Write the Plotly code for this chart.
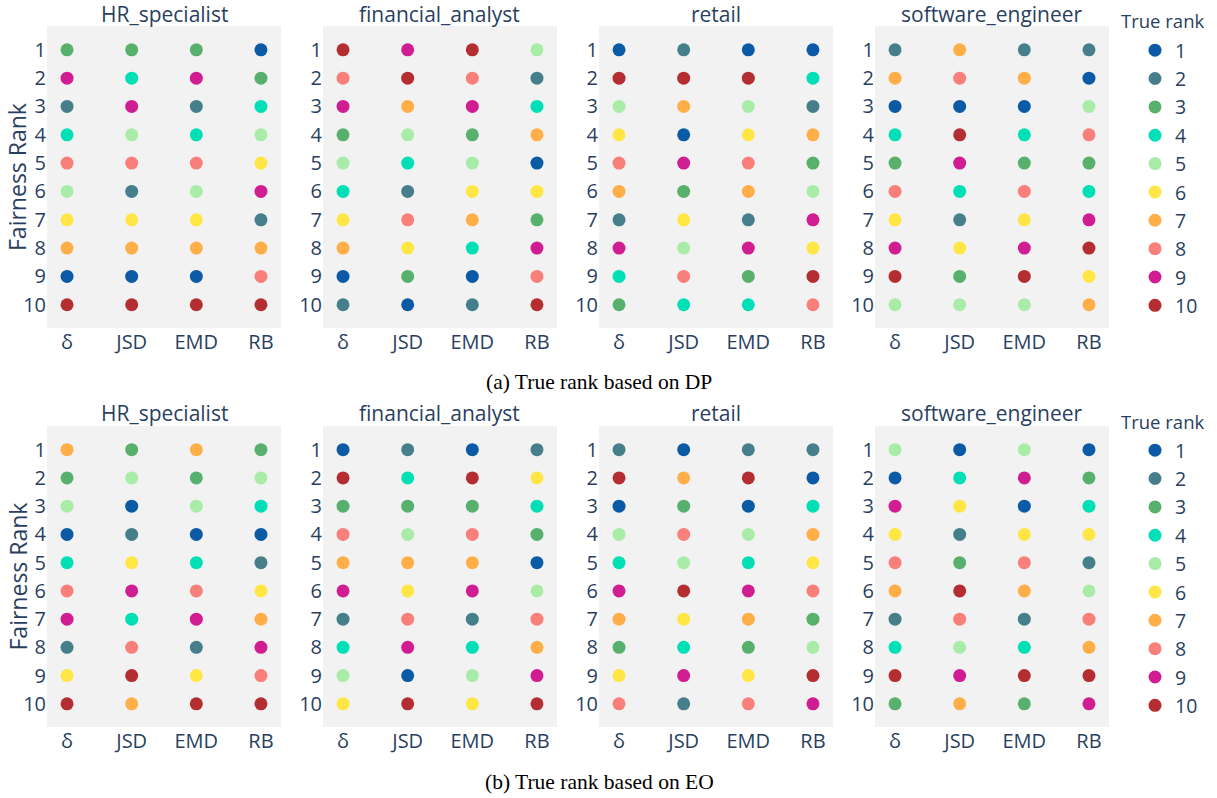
import plotly.graph_objects as go

# ---------------- data ----------------
metrics = ["δ", "JSD", "EMD", "RB"]
jobs = ["HR_specialist", "financial_analyst", "retail", "software_engineer"]
fairness_ranks = [1, 2, 3, 4, 5, 6, 7, 8, 9, 10]
true_ranks = [1, 2, 3, 4, 5, 6, 7, 8, 9, 10]

# true rank found at fairness rank 1..10, per metric column (delta, JSD, EMD, RB)
dp_hr = [[3, 9, 2, 4, 8, 5, 6, 7, 1, 10],
         [3, 4, 9, 5, 8, 2, 6, 7, 1, 10],
         [3, 9, 2, 4, 8, 5, 6, 7, 1, 10],
         [1, 3, 4, 5, 6, 9, 2, 7, 8, 10]]
dp_fin = [[10, 8, 9, 3, 5, 4, 6, 7, 1, 2],
          [9, 10, 7, 5, 4, 2, 8, 6, 3, 1],
          [10, 8, 9, 3, 5, 6, 7, 4, 1, 2],
          [5, 2, 4, 7, 1, 6, 3, 9, 8, 10]]
dp_retail = [[1, 10, 5, 6, 8, 7, 2, 9, 4, 3],
             [2, 10, 7, 1, 9, 3, 6, 5, 8, 4],
             [1, 10, 5, 6, 8, 7, 2, 9, 3, 4],
             [1, 4, 2, 7, 3, 5, 9, 6, 10, 8]]
dp_se = [[2, 7, 1, 4, 3, 8, 6, 9, 10, 5],
         [7, 8, 1, 10, 9, 4, 2, 6, 3, 5],
         [2, 7, 1, 4, 3, 8, 6, 9, 10, 5],
         [2, 1, 5, 8, 3, 4, 9, 10, 6, 7]]

eo_hr = [[7, 3, 5, 1, 4, 8, 9, 2, 6, 10],
         [3, 5, 1, 2, 6, 9, 4, 8, 10, 7],
         [7, 3, 5, 1, 4, 8, 9, 2, 6, 10],
         [3, 5, 4, 1, 2, 6, 7, 9, 8, 10]]
eo_fin = [[1, 10, 3, 8, 7, 9, 2, 4, 5, 6],
          [2, 4, 3, 5, 7, 6, 8, 9, 1, 10],
          [1, 10, 3, 8, 7, 9, 2, 4, 5, 6],
          [2, 6, 4, 3, 1, 5, 8, 7, 9, 10]]
eo_retail = [[2, 10, 1, 5, 4, 9, 7, 3, 6, 8],
             [1, 7, 3, 8, 5, 10, 6, 4, 9, 2],
             [2, 10, 1, 5, 4, 9, 7, 3, 6, 8],
             [2, 1, 4, 7, 6, 8, 3, 5, 10, 9]]
eo_se = [[5, 1, 9, 6, 8, 7, 2, 4, 10, 3],
         [1, 4, 6, 2, 3, 10, 8, 5, 9, 7],
         [5, 9, 1, 6, 8, 7, 2, 4, 10, 3],
         [1, 3, 4, 6, 2, 5, 8, 7, 10, 9]]

rank_colors = ["#0a5aa6", "#457f8b", "#58b06d", "#00dfb5", "#a8eca8",
               "#ffe645", "#ffae48", "#f97f7a", "#d11d92", "#b42d30"]

captions = ["(a) True rank based on DP", "(b) True rank based on EO"]
panels = [[dp_hr, dp_fin, dp_retail, dp_se], [eo_hr, eo_fin, eo_retail, eo_se]]

# ---------------- layout geometry (screen pixels) ----------------
W, H = 1217, 798
col_px = [(47, 281), (323, 557), (599, 833), (875, 1109)]
row_px = [(26, 328), (426, 727)]
title_y = [14, 413]
caption_y = [382, 782]
legend_title_y = [21, 421]
legend_top = [31, 431]

def px_x(x):
    return x / W

def px_y(y):
    return 1 - y / H

fig = go.Figure()
layout_axes = {}
annotations = []
font_color = "#2a3f5f"

for r in range(2):
    legend_name = "legend" if r == 0 else "legend2"
    for c in range(4):
        idx = r * 4 + c + 1
        xa = "x" if idx == 1 else f"x{idx}"
        ya = "y" if idx == 1 else f"y{idx}"
        data = panels[r][c]
        for tr in true_ranks:
            xs, ys = [], []
            for mi, m in enumerate(metrics):
                for fi, f in enumerate(fairness_ranks):
                    if data[mi][fi] == tr:
                        xs.append(m)
                        ys.append(f)
            fig.add_trace(go.Scatter(
                x=xs, y=ys, mode="markers", xaxis=xa, yaxis=ya,
                marker=dict(size=13, color=rank_colors[tr - 1]),
                name=str(tr), legendgroup=f"r{r}_{tr}", legend=legend_name,
                showlegend=(c == 0),
            ))
        x0, x1 = col_px[c]
        y0, y1 = row_px[r]
        layout_axes[("xaxis" if idx == 1 else f"xaxis{idx}")] = dict(
            domain=[px_x(x0), px_x(x1)], anchor=ya, type="category",
            categoryorder="array", categoryarray=metrics,
            range=[-0.31, 3.31], showgrid=False, zeroline=False,
            tickfont=dict(size=20, color=font_color), fixedrange=True,
        )
        layout_axes[("yaxis" if idx == 1 else f"yaxis{idx}")] = dict(
            domain=[px_y(y1), px_y(y0)], anchor=xa,
            range=[10.82, 0.16], tickmode="array", tickvals=fairness_ranks,
            showgrid=False, zeroline=False,
            tickfont=dict(size=20, color=font_color), fixedrange=True,
        )
        annotations.append(dict(
            text=jobs[c], x=px_x((x0 + x1) / 2), y=px_y(title_y[r]),
            xref="paper", yref="paper", xanchor="center", yanchor="middle",
            showarrow=False, font=dict(size=21, color=font_color),
        ))
    annotations.append(dict(
        text="Fairness Rank", x=px_x(17), y=px_y(sum(row_px[r]) / 2),
        xref="paper", yref="paper", xanchor="center", yanchor="middle",
        textangle=-90, showarrow=False, font=dict(size=23, color=font_color),
    ))
    annotations.append(dict(
        text=captions[r], x=px_x(599), y=px_y(caption_y[r]),
        xref="paper", yref="paper", xanchor="center", yanchor="middle",
        showarrow=False,
        font=dict(size=21.5, color="black", family="Liberation Serif, Times New Roman, serif"),
    ))
    annotations.append(dict(
        text="True rank", x=px_x(1119), y=px_y(legend_title_y[r]),
        xref="paper", yref="paper", xanchor="left", yanchor="middle",
        showarrow=False, font=dict(size=18.5, color=font_color),
    ))

legend_style = dict(
    font=dict(size=19.5, color=font_color),
    xanchor="left", yanchor="top", bgcolor="rgba(0,0,0,0)",
    tracegroupgap=0,
)

fig.update_layout(
    width=W, height=H,
    margin=dict(l=0, r=0, t=0, b=0),
    paper_bgcolor="white", plot_bgcolor="#f2f2f2",
    showlegend=True,
    legend=dict(x=px_x(1135), y=px_y(legend_top[0]), **legend_style),
    legend2=dict(x=px_x(1135), y=px_y(legend_top[1]), **legend_style),
    annotations=annotations,
    **layout_axes,
)

# remove the default page margin so the figure fills the window exactly
fig.write_html("out.html", config={"displayModeBar": False},
               post_script="document.body.style.margin='0';")
